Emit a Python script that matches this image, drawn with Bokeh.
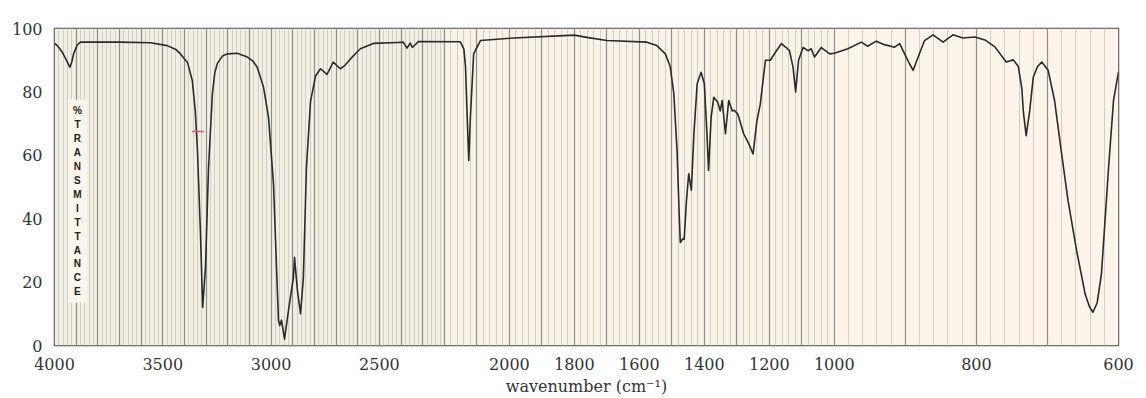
import numpy as np
from bokeh.plotting import figure
from bokeh.models import FixedTicker, Range1d, BoxAnnotation, Label
from bokeh.embed import file_html
from bokeh.resources import INLINE

# ---- data ----
wavenumber = [4000, 3990, 3980, 3965, 3945, 3935, 3929, 3920, 3912, 3895, 3880, 3700, 3557, 3480, 3440,
              3419, 3400, 3386, 3364, 3350, 3340, 3326, 3316, 3303, 3289, 3271, 3260, 3248, 3225, 3202,
              3156, 3110, 3085, 3064, 3035, 3012, 2989, 2975, 2966, 2960, 2952, 2938, 2920, 2897, 2892,
              2878, 2864, 2851, 2837, 2818, 2795, 2772, 2742, 2713, 2681, 2660, 2634, 2588, 2528, 2417,
              2390, 2373, 2358, 2348, 2320, 2151, 2140, 2135, 2128, 2125, 2120, 2110, 2089, 1987, 1800,
              1762, 1700, 1577, 1546, 1520, 1505, 1494, 1484, 1477, 1474, 1466, 1462, 1455, 1448, 1440,
              1432, 1422, 1410, 1400, 1392, 1387, 1379, 1371, 1359, 1351, 1345, 1335, 1325, 1314, 1308,
              1297, 1279, 1263, 1250, 1238, 1228, 1212, 1197, 1178, 1163, 1148, 1138, 1127, 1119, 1110,
              1096, 1081, 1071, 1061, 1040, 1014, 1000, 981, 962, 953, 941, 931, 915, 908, 901,
              894, 889, 882, 873, 861, 847, 833, 819, 802, 788, 774, 758, 748, 741, 736,
              734, 730, 725, 720, 714, 708, 699, 690, 680, 671, 659, 647, 641, 636, 630,
              624, 614, 607, 600]
transmittance = [95.3, 94.8, 94.0, 92.6, 90.0, 88.6, 87.8, 89.5, 92.0, 94.8, 95.7, 95.7, 95.5, 94.6, 93.4,
                 92.0, 90.4, 89.3, 83.6, 74.0, 61.5, 35.0, 12.0, 24.6, 56.0, 79.5, 86.0, 89.0, 91.3, 92.0,
                 92.2, 91.0, 89.8, 87.8, 81.5, 72.0, 51.0, 24.6, 7.9, 6.3, 8.0, 2.0, 11.0, 21.5, 27.8,
                 17.0, 10.0, 21.5, 56.0, 77.0, 85.0, 87.3, 85.5, 89.4, 87.3, 88.3, 90.4, 93.6, 95.3, 95.6,
                 95.7, 93.8, 95.4, 94.0, 95.9, 95.8, 93.5, 87.8, 66.8, 58.4, 72.0, 92.0, 96.2, 97.0, 97.9,
                 97.2, 96.2, 95.7, 94.6, 92.0, 88.0, 79.5, 61.5, 40.4, 32.5, 33.7, 33.5, 45.7, 54.2, 49.0,
                 67.0, 82.6, 86.2, 82.6, 66.8, 55.2, 72.0, 78.3, 76.8, 74.0, 77.3, 66.8, 77.3, 74.0, 74.2,
                 73.0, 66.8, 63.6, 60.4, 71.0, 76.0, 90.0, 90.0, 93.0, 95.2, 94.0, 93.0, 87.8, 80.0, 90.0,
                 94.0, 93.0, 93.6, 91.0, 94.0, 92.0, 92.2, 93.6, 95.7, 94.4, 96.0, 95.0, 94.1, 95.2, 92.0,
                 88.8, 86.8, 91.0, 96.2, 98.0, 95.7, 98.0, 97.0, 97.3, 96.4, 94.2, 89.4, 90.1, 88.0, 81.0,
                 74.0, 66.2, 74.0, 84.6, 88.0, 89.4, 86.8, 77.3, 60.4, 45.7, 30.0, 16.3, 12.3, 10.5, 13.5,
                 22.6, 56.0, 77.3, 86.3]
x_tick_labels = [4000, 3500, 3000, 2500, 2000, 1800, 1600, 1400, 1200, 1000, 800, 600]
y_ticks = [0, 20, 40, 60, 80, 100]
marker_wn = [3337]
marker_t = [67.5]

# piecewise-linear wavenumber axis (as in the printed spectrum)
scale_breaks_wn = [4000, 2200, 1000, 600]
scale_breaks_u = [0, 1800, 3600, 4912]


def warp(w):
    w = np.asarray(w, dtype=float)
    u = np.interp(-w, [-b for b in scale_breaks_wn], scale_breaks_u)
    return [round(float(v), 6) for v in np.atleast_1d(u)]


major_wn = list(range(4000, 599, -100))
minor_wn = [w for w in range(4000, 599, -20) if w % 100 != 0]

SERIF = "DejaVu Serif"

p = figure(width=1146, height=398, output_backend="svg", toolbar_location=None,
           x_range=Range1d(0, scale_breaks_u[-1]), y_range=Range1d(0, 100),
           min_border_left=54, min_border_right=28, min_border_top=28, min_border_bottom=53)
p.background_fill_color = "#FBF4E8"
p.border_fill_color = "white"
p.outline_line_color = "#4a4a4a"
p.outline_line_width = 1.5

# background bands
band_cols = ["#F1EEE3", "#F9F2E6", "#FCF4E8"]
for i in range(3):
    p.add_layout(BoxAnnotation(left=scale_breaks_u[i], right=scale_breaks_u[i + 1],
                               fill_color=band_cols[i], fill_alpha=1.0, line_color=None,
                               level="image"))

# vertical grid
p.xgrid.ticker = FixedTicker(ticks=warp(major_wn), minor_ticks=warp(minor_wn))
p.xgrid.grid_line_color = "#8e8e8a"
p.xgrid.grid_line_width = 1.2
p.xgrid.minor_grid_line_color = "#d2cfc5"
p.xgrid.minor_grid_line_width = 1
p.ygrid.grid_line_color = None

# axes
tick_u = warp(x_tick_labels)
p.xaxis.ticker = FixedTicker(ticks=tick_u)
p.xaxis.major_label_overrides = {u: str(w) for u, w in zip(tick_u, x_tick_labels)}
p.yaxis.ticker = FixedTicker(ticks=y_ticks)
for ax in (p.xaxis[0], p.yaxis[0]):
    ax.axis_line_color = None
    ax.major_tick_line_color = None
    ax.minor_tick_line_color = None
    ax.major_label_text_font = SERIF
    ax.major_label_text_font_size = "16px"
    ax.major_label_text_color = "#333333"
p.xaxis.major_label_standoff = 6
p.yaxis.major_label_standoff = 6
p.xaxis.axis_label = "wavenumber (cm\u207b\u00b9)"
p.xaxis.axis_label_text_font = SERIF
p.xaxis.axis_label_text_font_size = "16px"
p.xaxis.axis_label_text_font_style = "normal"
p.xaxis.axis_label_text_color = "#333333"
p.xaxis.axis_label_standoff = 4

# spectrum
p.line(x=warp(wavenumber), y=transmittance, line_color="#2a2a2a", line_width=1.6,
       line_join="round")

# small pink mark
p.scatter(x=warp(marker_wn), y=marker_t, marker="dash", size=12,
          line_color="#e0508a", line_width=1.5)

# vertical "% TRANSMITTANCE" label
p.add_layout(Label(x=warp([3894])[0], y=77.5, text="\n".join("%TRANSMITTANCE"),
                   text_align="center", text_baseline="top",
                   text_font="Liberation Sans", text_font_size="10px",
                   text_font_style="bold",
                   text_color="#222222", text_line_height=1.27,
                   background_fill_color="#FBF6EC", padding=5))

open("out.html", "w").write(file_html(p, INLINE))
